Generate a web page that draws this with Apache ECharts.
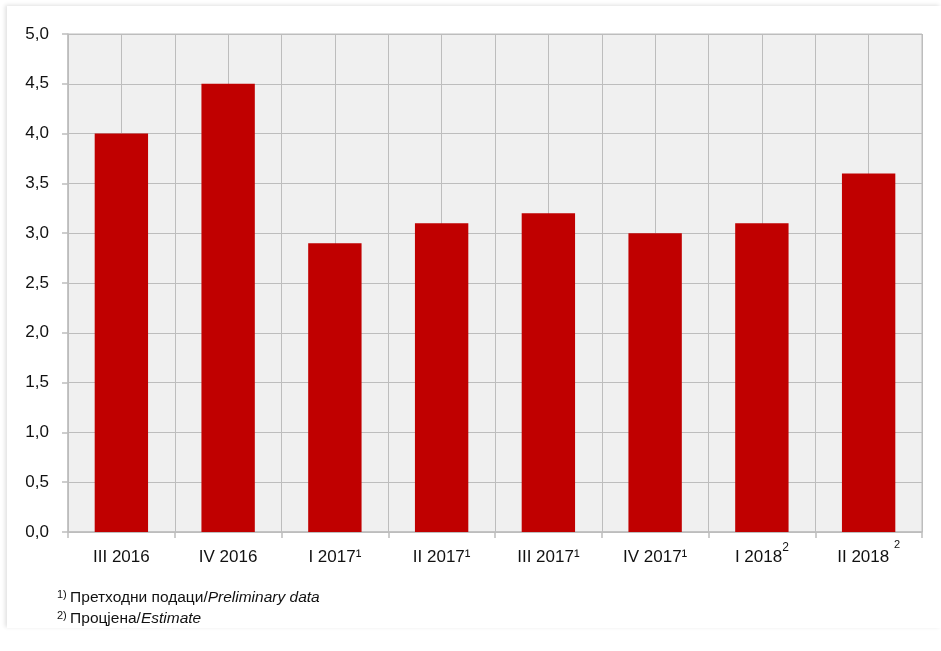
<!DOCTYPE html>
<html>
<head>
<meta charset="utf-8">
<script src="https://cdn.jsdelivr.net/npm/echarts@6/dist/echarts.min.js"></script>
<style>
  html, body { margin: 0; padding: 0; background: #fff; }
  #frame { position: absolute; left: 7px; top: 6px; width: 934px; height: 622px; box-shadow: -2px -1px 4px rgba(0,0,0,0.12); overflow: hidden; }
  #chart { position: absolute; left: -7px; top: -6px; width: 941px; height: 651px; }
</style>
</head>
<body>
<div id="frame"><div id="chart"></div></div>
<script>
// quarters and growth values (%)
let quarters = ['III 2016', 'IV 2016', 'I 2017', 'II 2017', 'III 2017', 'IV 2017', 'I 2018', 'II 2018'];
let notes = ['', '', 'a', 'a', 'a', 'a', 'b', 'c'];
let values = [4.0, 4.5, 2.9, 3.1, 3.2, 3.0, 3.1, 3.6];
let yTicks = { min: 0, max: 5, interval: 0.5 };

let font = "'Liberation Sans Narrow', 'Arial Narrow', 'Liberation Sans', sans-serif";
let gridColor = '#bdbdbd';

let halfCats = [];
quarters.forEach((q) => { halfCats.push(q + '-a', q + '-b'); });

let chart = echarts.init(document.getElementById('chart'));

let options = {
  backgroundColor: '#ffffff',
  animation: false,
  textStyle: { fontFamily: font },
  grid: {
    left: 68, right: 19, top: 34, bottom: 119,
    show: true, backgroundColor: '#f0f0f0', borderColor: gridColor, borderWidth: 1,
  },
  xAxis: [
    {
      type: 'category',
      data: quarters,
      axisLine: { lineStyle: { color: gridColor, width: 1.5 } },
      axisTick: { show: true, interval: 0, length: 6, lineStyle: { color: gridColor, width: 1.5 } },
      splitLine: { show: false },
      axisLabel: {
        interval: 0,
        margin: 6,
        color: '#111',
        fontSize: 17,
        fontFamily: font,
        formatter(v, i) {
          let n = notes[i];
          if (n === 'a') return '{t|' + v + '}{s|¹}';
          if (n === 'b') return '{t|' + v + '}{u|2}';
          if (n === 'c') return '{t|' + v + ' }{v|2}';
          return '{t|' + v + '}';
        },
        rich: {
          t: { fontSize: 17, lineHeight: 28, verticalAlign: 'bottom', color: '#111', fontFamily: font },
          s: { fontSize: 17, lineHeight: 28, verticalAlign: 'bottom', color: '#111', fontFamily: font },
          u: { fontSize: 12, lineHeight: 12, verticalAlign: 'bottom', color: '#111', fontFamily: font, padding: [0, 0, 12, 0] },
          v: { fontSize: 11, lineHeight: 11, verticalAlign: 'bottom', color: '#111', fontFamily: font, padding: [0, 0, 16, 0] },
        },
      },
    },
    {
      type: 'category',
      data: halfCats,
      position: 'bottom',
      axisLine: { show: false },
      axisTick: { show: false, interval: 0 },
      axisLabel: { show: false, interval: 0 },
      splitLine: { show: true, interval: 0, lineStyle: { color: gridColor, width: 1 } },
    },
  ],
  yAxis: {
    type: 'value',
    min: yTicks.min,
    max: yTicks.max,
    interval: yTicks.interval,
    axisLine: { show: true, lineStyle: { color: gridColor, width: 1.5 } },
    axisTick: { show: true, length: 6, lineStyle: { color: gridColor, width: 1.5 } },
    splitLine: { show: true, lineStyle: { color: gridColor, width: 1 } },
    axisLabel: {
      margin: 19,
      color: '#111',
      fontSize: 17,
      fontFamily: font,
      formatter: (v) => v.toFixed(1).replace('.', ','),
    },
  },
  series: [
    {
      type: 'bar',
      xAxisIndex: 0,
      data: values,
      barWidth: '50%',
      itemStyle: { color: '#c00000' },
    },
  ],
  graphic: [
    {
      type: 'text', left: 57, top: 589,
      style: {
        text: '{s|1)} {t|Претходни подаци/}{i|Preliminary data}',
        rich: {
          s: { fontSize: 11, fontFamily: font, fill: '#111', padding: [0, 0, 6, 0] },
          t: { fontSize: 15.5, fontFamily: font, fill: '#111' },
          i: { fontSize: 15.5, fontFamily: font, fill: '#111', fontStyle: 'italic' },
        },
      },
    },
    {
      type: 'text', left: 57, top: 610,
      style: {
        text: '{s|2)} {t|Процјена/}{i|Estimate}',
        rich: {
          s: { fontSize: 11, fontFamily: font, fill: '#111', padding: [0, 0, 6, 0] },
          t: { fontSize: 15.5, fontFamily: font, fill: '#111' },
          i: { fontSize: 15.5, fontFamily: font, fill: '#111', fontStyle: 'italic' },
        },
      },
    },
  ],
};

chart.setOption(options);
</script>
</body>
</html>
